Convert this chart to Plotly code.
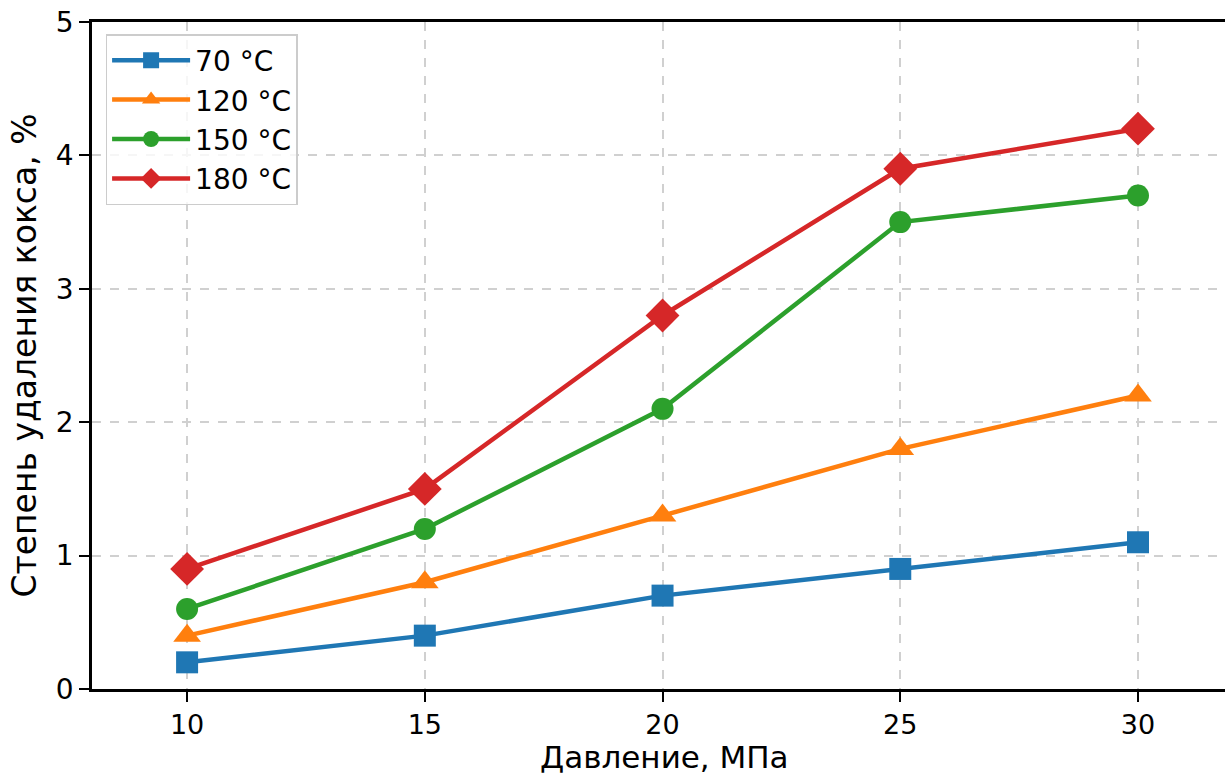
import plotly.graph_objects as go

pressure = [10, 15, 20, 25, 30]
series_names = ["70 °C", "120 °C", "150 °C", "180 °C"]
s70 = [0.2, 0.4, 0.7, 0.9, 1.1]
s120 = [0.4, 0.8, 1.3, 1.8, 2.2]
s150 = [0.6, 1.2, 2.1, 3.5, 3.7]
s180 = [0.9, 1.5, 2.8, 3.9, 4.2]
colors = ["#1f77b4", "#ff7f0e", "#2ca02c", "#d62728"]
symbols = ["square", "triangle-up", "circle", "diamond"]
msizes = [22, 24, 22, 26]

fig = go.Figure()
for name, ys, c, sym, ms in zip(series_names, [s70, s120, s150, s180], colors, symbols, msizes):
    fig.add_trace(go.Scatter(x=pressure, y=ys, name=name, mode="lines+markers",
                             line=dict(color=c, width=4.5),
                             marker=dict(symbol=sym, size=ms, color=c)))

font = "DejaVu Sans, sans-serif"
fig.update_layout(
    width=1225, height=776,
    margin=dict(l=92, r=0, t=22, b=87),
    paper_bgcolor="white", plot_bgcolor="white",
    font=dict(family=font, size=27, color="black"),
    showlegend=True,
    legend=dict(x=0.012, y=0.982, xanchor="left", yanchor="top",
                bgcolor="rgba(255,255,255,0.8)", bordercolor="#cccccc", borderwidth=1.5,
                font=dict(size=28, family=font), tracegroupgap=0, itemwidth=78),
    xaxis=dict(range=[8, 31.83], tickvals=pressure, ticks="outside", ticklen=10, tickwidth=2,
               tickcolor="black", showline=True, linecolor="black", linewidth=2.5, mirror=True,
               showgrid=True, gridcolor="#d0d0d0", griddash="dash", gridwidth=1.5, zeroline=False,
               automargin=False, tickfont=dict(size=27)),
    yaxis=dict(range=[0, 5], tickvals=[0, 1, 2, 3, 4, 5], ticks="outside", ticklen=10, tickwidth=2,
               tickcolor="black", showline=True, linecolor="black", linewidth=2.5,
               showgrid=True, gridcolor="#d0d0d0", griddash="dash", gridwidth=1.5, zeroline=False,
               automargin=False,
               title=dict(text="Степень удаления кокса, %", font=dict(size=33), standoff=10),
               tickfont=dict(size=28)),
    annotations=[dict(text="Давление, МПа", xref="paper", yref="paper",
                      x=(664 - 92) / (1225 - 92), y=-0.072,
                      xanchor="center", yanchor="top", showarrow=False,
                      font=dict(size=31, family=font, color="black"))],
)
fig.write_html("out.html")
